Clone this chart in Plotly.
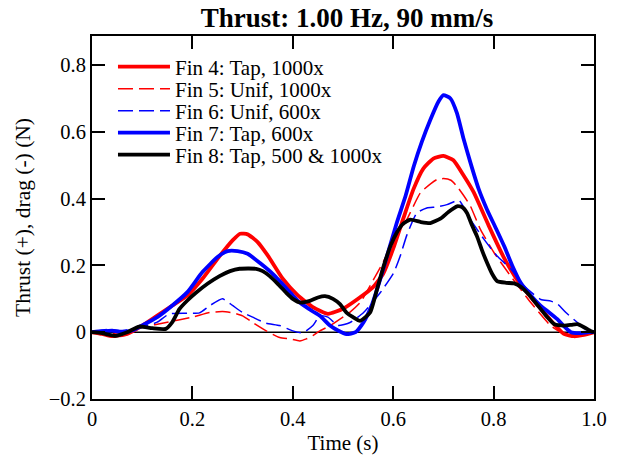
import plotly.graph_objects as go

# ---- data ----
fin4_t = [0, 0.02, 0.04, 0.07, 0.10, 0.13, 0.16, 0.19, 0.22, 0.25, 0.28, 0.295, 0.31, 0.33, 0.35, 0.38, 0.41, 0.44,
          0.47, 0.50, 0.53, 0.56, 0.58, 0.60, 0.62, 0.64, 0.66, 0.68, 0.70, 0.72, 0.74, 0.76, 0.79, 0.82, 0.85,
          0.88, 0.90, 0.92, 0.94, 0.96, 0.98, 1.0]
fin4_v = [0, -0.005, -0.012, -0.005, 0.02, 0.05, 0.08, 0.11, 0.16, 0.22, 0.275, 0.295, 0.293, 0.27, 0.23, 0.16,
          0.11, 0.075, 0.055, 0.07, 0.10, 0.135, 0.175, 0.25, 0.34, 0.427, 0.49, 0.52, 0.528, 0.515, 0.47, 0.42,
          0.32, 0.225, 0.15, 0.095, 0.06, 0.025, -0.005, -0.012, -0.008, 0]

fin5_t = [0, 0.03, 0.06, 0.10, 0.15, 0.20, 0.234, 0.26, 0.28, 0.30, 0.32, 0.347, 0.374, 0.394, 0.414, 0.427, 0.44,
          0.454, 0.475, 0.494, 0.514, 0.535, 0.561, 0.58, 0.60, 0.627, 0.654, 0.675, 0.687, 0.70, 0.715, 0.727,
          0.74, 0.754, 0.774, 0.801, 0.834, 0.874, 0.914, 0.94, 0.97, 0.99, 1.0]
fin5_v = [0, -0.005, 0.0, 0.015, 0.03, 0.045, 0.059, 0.062, 0.058, 0.049, 0.029, 0.004, -0.016, -0.02, -0.026,
          -0.02, -0.01, 0.004, 0.02, 0.039, 0.06, 0.09, 0.158, 0.21, 0.27, 0.337, 0.417, 0.445, 0.457, 0.46, 0.455,
          0.437, 0.41, 0.377, 0.307, 0.238, 0.168, 0.089, 0.019, -0.005, -0.005, 0.0, 0]

fin6_t = [0, 0.03, 0.06, 0.10, 0.13, 0.154, 0.19, 0.214, 0.234, 0.26, 0.28, 0.30, 0.32, 0.347, 0.374, 0.40, 0.42,
          0.44, 0.454, 0.47, 0.49, 0.514, 0.541, 0.574, 0.601, 0.614, 0.627, 0.647, 0.667, 0.687, 0.707, 0.731,
          0.742, 0.754, 0.781, 0.807, 0.834, 0.861, 0.894, 0.914, 0.927, 0.944, 0.967, 0.99, 1.0]
fin6_v = [0, 0.008, 0.005, 0.015, 0.03, 0.055, 0.057, 0.058, 0.079, 0.10, 0.08, 0.059, 0.045, 0.027, 0.02, 0.004,
          -0.002, 0.02, 0.049, 0.045, 0.02, 0.029, 0.059, 0.118, 0.178, 0.228, 0.29, 0.357, 0.372, 0.375, 0.382,
          0.395, 0.37, 0.337, 0.278, 0.228, 0.19, 0.138, 0.098, 0.093, 0.085, 0.059, 0.029, 0.0, 0]

fin7_t = [0, 0.02, 0.04, 0.06, 0.08, 0.10, 0.13, 0.16, 0.19, 0.22, 0.25, 0.27, 0.29, 0.31, 0.334, 0.36, 0.374, 0.40,
          0.414, 0.44, 0.454, 0.474, 0.49, 0.507, 0.525, 0.541, 0.557, 0.574, 0.59, 0.607, 0.625, 0.641, 0.657,
          0.674, 0.69, 0.70, 0.714, 0.727, 0.74, 0.754, 0.77, 0.787, 0.805, 0.821, 0.837, 0.854, 0.874, 0.894,
          0.91, 0.927, 0.94, 0.954, 0.97, 0.99, 1.0]
fin7_v = [0, 0.003, 0.005, 0.0, 0.005, 0.02, 0.045, 0.08, 0.12, 0.18, 0.225, 0.243, 0.243, 0.235, 0.208, 0.175,
          0.153, 0.11, 0.089, 0.062, 0.049, 0.02, 0.005, -0.006, 0.0, 0.03, 0.08, 0.158, 0.24, 0.327, 0.41, 0.497,
          0.57, 0.636, 0.69, 0.71, 0.70, 0.656, 0.58, 0.507, 0.43, 0.367, 0.31, 0.258, 0.2, 0.148, 0.11, 0.079,
          0.06, 0.039, 0.018, 0.0, -0.003, 0.0, 0]

fin8_t = [0, 0.02, 0.047, 0.07, 0.094, 0.12, 0.147, 0.16, 0.174, 0.19, 0.207, 0.23, 0.254, 0.275, 0.294, 0.327,
          0.34, 0.354, 0.37, 0.387, 0.40, 0.414, 0.434, 0.45, 0.464, 0.48, 0.494, 0.507, 0.52, 0.534, 0.554, 0.568,
          0.581, 0.595, 0.607, 0.62, 0.634, 0.655, 0.674, 0.694, 0.71, 0.727, 0.737, 0.747, 0.757, 0.767, 0.777,
          0.787, 0.797, 0.807, 0.825, 0.841, 0.855, 0.867, 0.88, 0.894, 0.907, 0.921, 0.941, 0.955, 0.967, 0.98,
          0.994, 1.0]
fin8_v = [0, -0.003, -0.011, 0.0, 0.017, 0.012, 0.01, 0.03, 0.069, 0.095, 0.118, 0.145, 0.168, 0.183, 0.19, 0.19,
          0.183, 0.168, 0.145, 0.118, 0.1, 0.089, 0.094, 0.104, 0.108, 0.1, 0.084, 0.059, 0.045, 0.034, 0.059, 0.13,
          0.198, 0.26, 0.298, 0.325, 0.337, 0.33, 0.327, 0.34, 0.36, 0.377, 0.375, 0.357, 0.32, 0.287, 0.245,
          0.208, 0.175, 0.153, 0.148, 0.146, 0.135, 0.118, 0.095, 0.069, 0.045, 0.024, 0.02, 0.022, 0.024, 0.015,
          0.003, 0]

series_names = ["Fin 4: Tap, 1000x", "Fin 5: Unif, 1000x", "Fin 6: Unif, 600x",
                "Fin 7: Tap, 600x", "Fin 8: Tap, 500 & 1000x"]

x_tickvals = [0, 0.2, 0.4, 0.6, 0.8, 1.0]
x_ticktext = ["0", "0.2", "0.4", "0.6", "0.8", "1.0"]
y_tickvals = [-0.2, 0, 0.2, 0.4, 0.6, 0.8]

FONT = "Liberation Serif, Times New Roman, serif"
RED = "#ff0000"
BLUE = "#0000ff"

fig = go.Figure()
series = [
    (fin4_t, fin4_v, RED, 3.8, "solid"),
    (fin5_t, fin5_v, RED, 1.5, "15px,6px"),
    (fin6_t, fin6_v, BLUE, 1.5, "15px,6px"),
    (fin7_t, fin7_v, BLUE, 3.8, "solid"),
    (fin8_t, fin8_v, "#000000", 3.8, "solid"),
]
legend_ids = ["legend", "legend2", "legend3", "legend4", "legend5"]
for name, (t, v, c, w, d), lid in zip(series_names, series, legend_ids):
    fig.add_trace(go.Scatter(x=t, y=v, mode="lines", name=name, legend=lid,
                             line=dict(color=c, width=w, dash=d, shape="spline", smoothing=0.5)))

fig.add_shape(type="line", xref="x", yref="y", x0=0, x1=1, y0=0, y1=0,
              line=dict(color="black", width=1.5), layer="below")

axis_common = dict(showline=True, linecolor="black", linewidth=2, mirror="ticks",
                   ticks="inside", ticklen=13, tickwidth=2, tickcolor="black",
                   showgrid=False, zeroline=False,
                   tickfont=dict(family=FONT, size=20.5, color="black"))

fig.update_xaxes(range=[0, 1.0], tickvals=x_tickvals, ticktext=x_ticktext,
                 title=dict(text="Time (s)", font=dict(family=FONT, size=21, color="black"), standoff=11),
                 **axis_common)
fig.update_yaxes(range=[-0.2, 0.887], tickvals=y_tickvals,
                 title=dict(text="Thrust (+), drag (-) (N)", font=dict(family=FONT, size=21.5, color="black"),
                            standoff=12),
                 **axis_common)

legend_rows_y = [0.9146, 0.8540, 0.7934, 0.7328, 0.6722]
legend_style = dict(x=0.0418, xanchor="left", yanchor="middle", bgcolor="rgba(0,0,0,0)",
                    borderwidth=0, itemwidth=52, font=dict(family=FONT, size=21, color="black"))
legend_layout = {lid: dict(y=yy, **legend_style) for lid, yy in zip(legend_ids, legend_rows_y)}

fig.update_layout(
    width=618, height=455,
    margin=dict(l=92, r=24, t=36, b=56, autoexpand=False),
    paper_bgcolor="white", plot_bgcolor="white",
    title=dict(text="<b>Thrust: 1.00 Hz, 90 mm/s</b>", x=0.5615, xanchor="center", y=0.961, yanchor="middle",
               font=dict(family=FONT, size=27, color="black")),
    showlegend=True,
    **legend_layout,
)

fig.write_html("out.html", config={"displayModeBar": False},
               post_script="document.body.style.margin='0';")
